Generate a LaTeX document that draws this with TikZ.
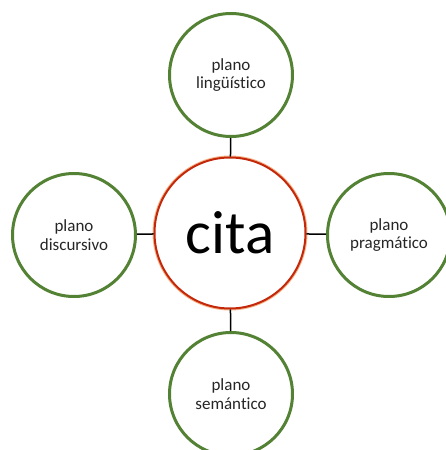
\documentclass[tikz,border=0pt]{standalone}
\usepackage{fontspec}
\setmainfont{Carlito}[Ligatures=NoCommon]
\usepackage{tikz}
\definecolor{planogreen}{RGB}{84,130,53}
\definecolor{citared}{RGB}{196,40,10}
\definecolor{citaglow}{RGB}{240,130,60}
\tikzset{
  plano/.style={circle,draw=planogreen,line width=3pt,fill=white,minimum size=123pt,
    align=center,inner sep=0pt,font=\fontsize{17}{18.5}\selectfont,text=black!85},
  centro/.style={circle,draw=citared,line width=2pt,fill=white,minimum size=151pt,
    inner sep=0pt,font=\fontsize{61}{70}\selectfont,
    preaction={draw=citaglow,line width=4pt,opacity=0.6}},
  enlace/.style={line width=1.5pt,black}
}
\begin{document}
\begin{tikzpicture}[x=1pt,y=-1pt]
                    \useasboundingbox (0,0) rectangle (445,450);
                    % Coordinates of the centres
                    \coordinate (C) at (230, 233);
                    \coordinate (N) at (231, 75);
                    \coordinate (W) at (74, 235);
                    \coordinate (E) at (389, 235);
                    \coordinate (S) at (231, 394);

                    % The circles
                    \node[centro] (cita) at (C) {cita};
                    \node[plano] (linguistico) at (N) {plano\\lingüístico};
                    \node[plano] (discursivo) at (W) {plano\\discursivo};
                    \node[plano] (pragmatico) at (E) {plano\\pragmático};
                    \node[plano] (semantico) at (S) {plano\\semántico};

                    % The links
                    \draw[enlace] (cita) -- (linguistico);
                    \draw[enlace] (cita) -- (discursivo);
                    \draw[enlace] (cita) -- (pragmatico);
                    \draw[enlace] (cita) -- (semantico);
                \end{tikzpicture}
\end{document}
